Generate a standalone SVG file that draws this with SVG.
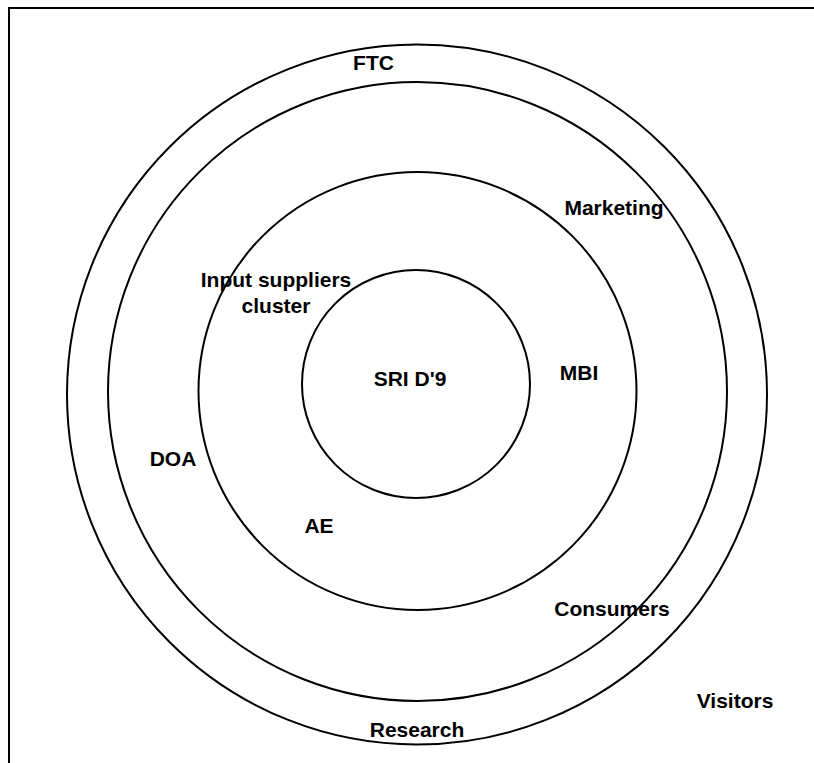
<svg xmlns="http://www.w3.org/2000/svg" width="814" height="763" viewBox="0 0 814 763">
<style>
.ring{fill:none;stroke:#000;stroke-width:2}
.lbl{font-family:"Liberation Sans",Arial,sans-serif;font-weight:bold;font-size:21px;fill:#000;text-anchor:middle}
</style>
<rect x="0" y="0" width="814" height="763" fill="#fff"/>
<rect x="9" y="8" width="830" height="790" fill="none" stroke="#000" stroke-width="2"/>
<g id="ring-outer"><circle class="ring" cx="417" cy="394.5" r="350"/></g>
<g id="ring-2"><circle class="ring" cx="417.5" cy="391.5" r="309.5"/></g>
<g id="ring-3"><circle class="ring" cx="417.5" cy="391" r="219"/></g>
<g id="ring-core"><circle class="ring" cx="416" cy="384" r="114"/></g>
<g id="connectors"></g>
<g id="labels">
<g id="n-ftc"><text class="lbl" x="373.5" y="70">FTC</text></g>
<g id="n-marketing"><text class="lbl" x="614" y="215">Marketing</text></g>
<g id="n-input"><text class="lbl" x="276" y="287">Input suppliers</text><text class="lbl" x="276" y="313">cluster</text></g>
<g id="n-sri"><text class="lbl" x="410" y="386">SRI D'9</text></g>
<g id="n-mbi"><text class="lbl" x="579" y="380">MBI</text></g>
<g id="n-doa"><text class="lbl" x="173" y="466">DOA</text></g>
<g id="n-ae"><text class="lbl" x="319" y="533">AE</text></g>
<g id="n-consumers"><text class="lbl" x="612" y="616">Consumers</text></g>
<g id="n-visitors"><text class="lbl" x="735" y="708">Visitors</text></g>
<g id="n-research"><text class="lbl" x="417" y="737">Research</text></g>
</g>
</svg>
